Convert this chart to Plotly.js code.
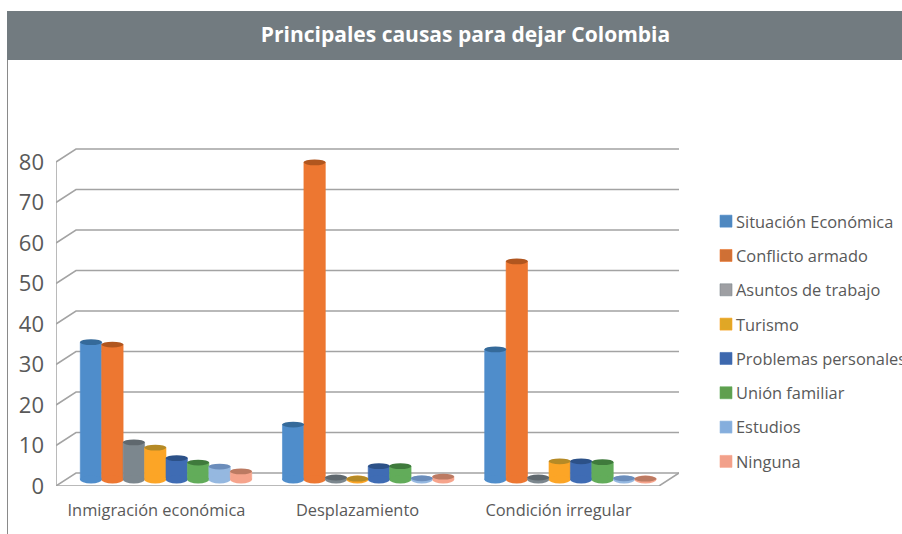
<!DOCTYPE html>
<html><head><meta charset="utf-8">
<script src="https://cdn.plot.ly/plotly-3.0.1.min.js"></script>
<style>html,body{margin:0;padding:0;background:#fff;overflow:hidden}</style>
</head><body><div id="chart" style="width:902px;height:534px"></div>
<script>
const chartTitle = "Principales causas para dejar Colombia";
const categories = ["Inmigración económica", "Desplazamiento", "Condición irregular"];
const yTicks = [0, 10, 20, 30, 40, 50, 60, 70, 80];

const situacionEconomica = [34, 13.6, 32.2];
const conflictoArmado = [33.4, 78.5, 54];
const asuntosTrabajo = [9.2, 0.5, 0.5];
const turismo = [7.9, 0.2, 4.5];
const problemasPersonales = [5.3, 3.3, 4.5];
const unionFamiliar = [4.2, 3.3, 4.3];
const estudios = [3.2, 0.3, 0.3];
const ninguna = [2, 0.7, 0.2];

const seriesNames = ["Situación Económica", "Conflicto armado", "Asuntos de trabajo", "Turismo", "Problemas personales", "Unión familiar", "Estudios", "Ninguna"];
const seriesValues = [situacionEconomica, conflictoArmado, asuntosTrabajo, turismo, problemasPersonales, unionFamiliar, estudios, ninguna];
const bodyColors = ["#4F8DCB", "#ED7731", "#7C878E", "#FCA526", "#3F6CB4", "#62AC5A", "#95B8E0", "#F6A48C"];
const capColors = ["#356A9A", "#B0561F", "#5F686E", "#B58A26", "#2C5188", "#3F7A3C", "#6B8DBB", "#BC7A62"];
const legendColors = ["#4F88C0", "#CF7035", "#9E9FA3", "#E0A726", "#3D68AE", "#5F9F4F", "#85AEDD", "#F2A08A"];

// Plot frame in pixels; the margins are zero so paper fractions map directly.
const W = 902, H = 534, L = 56, R = 679, T = 145, B = 486;
const grey = "#A3A3A3", textGrey = "#595959";
const uiFont = "Open Sans";

// Front-plane axes (labels and the drawn "box"): 201px per category, 4.05px per unit.
const xUnit = 201, yUnit = 4.05;
const dx = 20 / xUnit, dy = 13 / yUnit;
const frontX = [-0.5, -0.5 + (R - L) / xUnit];
const frontY = [0, (B - T) / yUnit];
// Mid-plane axes for the cylinders.
const barX0 = 166, barPitch = 202.2, barY0 = 479.5, barUnit = 4.04;
const midX = [(L - barX0) / barPitch, (R - barX0) / barPitch];
const midY = [(barY0 - B) / barUnit, (barY0 - T) / barUnit];
const slot = 0.106, bargap = 1 - 8 * slot;
const capH = 2.9 / barUnit, baseH = 4 / barUnit;

const gx = [], gy = [];
yTicks.forEach(v => {
  gx.push(-0.5, -0.5 + dx, 2.5 + dx, null);
  gy.push(v, v + dy, v + dy, null);
});
const traces = [
  {type: "scatter", mode: "lines", x: gx, y: gy, xaxis: "x", yaxis: "y", showlegend: false, hoverinfo: "skip",
   line: {color: grey, width: 1.5}},
  {type: "scatter", mode: "lines", xaxis: "x", yaxis: "y", showlegend: false, hoverinfo: "skip",
   x: [-0.5, -0.5, null, -0.5, 2.5, 2.5 + dx], y: [0, 80, null, 0, 0, dy], line: {color: grey, width: 1.5}}
];
seriesNames.forEach((name, i) => traces.push({
  type: "bar", name: name, legendgroup: name, x: [0, 1, 2], y: seriesValues[i], xaxis: "x2", yaxis: "y2",
  marker: {color: bodyColors[i], line: {color: bodyColors[i], width: 0.6}}
}));

const shapes = [
  {type: "rect", xref: "paper", yref: "paper", x0: 7 / W, x1: 1, y0: 1 - 60 / H, y1: 1 - 11 / H, fillcolor: "#727B80", line: {width: 0}},
  {type: "line", xref: "paper", yref: "paper", x0: 7.5 / W, x1: 7.5 / W, y0: 0, y1: 1 - 60 / H, line: {color: "#8A8A8A", width: 1}}
];
seriesValues.forEach((vals, i) => vals.forEach((v, g) => {
  const c = g + (i - 3.5) * slot, hw = slot * 0.515;
  shapes.push({type: "circle", xref: "x2", yref: "y2", x0: c - hw, x1: c + hw, y0: -baseH, y1: baseH, fillcolor: bodyColors[i], line: {width: 0}});
}));
seriesValues.forEach((vals, i) => vals.forEach((v, g) => {
  const c = g + (i - 3.5) * slot, hw = slot * 0.515;
  shapes.push({type: "circle", xref: "x2", yref: "y2", x0: c - hw, x1: c + hw, y0: v - capH, y1: v + capH, fillcolor: capColors[i], line: {width: 0}});
}));

const domX = [L / W, R / W], domY = [1 - B / H, 1 - T / H];
// The longest legend row runs off the right edge in the reference: lay it out inside, then slide it over.
const legendLeft = 696, legendTop = 204;
const layout = {
  width: W, height: H, margin: {l: 0, r: 0, t: 0, b: 0, pad: 0, autoexpand: false},
  paper_bgcolor: "#fff", plot_bgcolor: "rgba(0,0,0,0)",
  font: {family: uiFont, color: textGrey},
  title: {text: "<b>" + chartTitle + "</b>", x: 465.5 / W, xanchor: "center", y: 1 - 35 / H, yanchor: "middle",
          font: {family: uiFont, size: 21, color: "#fff"}},
  barmode: "group", bargap: bargap, bargroupgap: 0,
  xaxis: {domain: domX, range: frontX, tickvals: [0, 1, 2], ticktext: categories, showgrid: false, zeroline: false, showline: false,
          ticks: "", ticklabelstandoff: 13, tickfont: {size: 16.4, color: textGrey}},
  yaxis: {domain: domY, range: frontY, tickvals: yTicks, showgrid: false, zeroline: false, showline: false,
          ticks: "", ticklabelstandoff: 11, tickfont: {size: 22, color: textGrey}},
  xaxis2: {domain: domX, range: midX, overlaying: "x", anchor: "y2", visible: false},
  yaxis2: {domain: domY, range: midY, overlaying: "y", anchor: "x2", visible: false},
  showlegend: true,
  legend: {x: 670 / W, xanchor: "left", y: 1 - legendTop / H, yanchor: "top", traceorder: "grouped", tracegroupgap: 10,
           font: {family: uiFont, size: 16.4, color: textGrey}, bgcolor: "rgba(0,0,0,0)", itemclick: false, itemdoubleclick: false},
  shapes: shapes
};
Plotly.newPlot("chart", traces, layout, {displayModeBar: false}).then(() => {
  document.querySelector("#chart .legend").setAttribute("transform", "translate(" + legendLeft + "," + legendTop + ")");
  document.querySelectorAll("#chart .legend .traces").forEach((item, i) => {
    const sym = item.querySelector(".legendsymbols");
    if (sym) sym.setAttribute("transform", "translate(10,0)");
    const p = item.querySelector(".legendpoints path");
    if (p) p.style.fill = legendColors[i];
  });
});
</script></body></html>
